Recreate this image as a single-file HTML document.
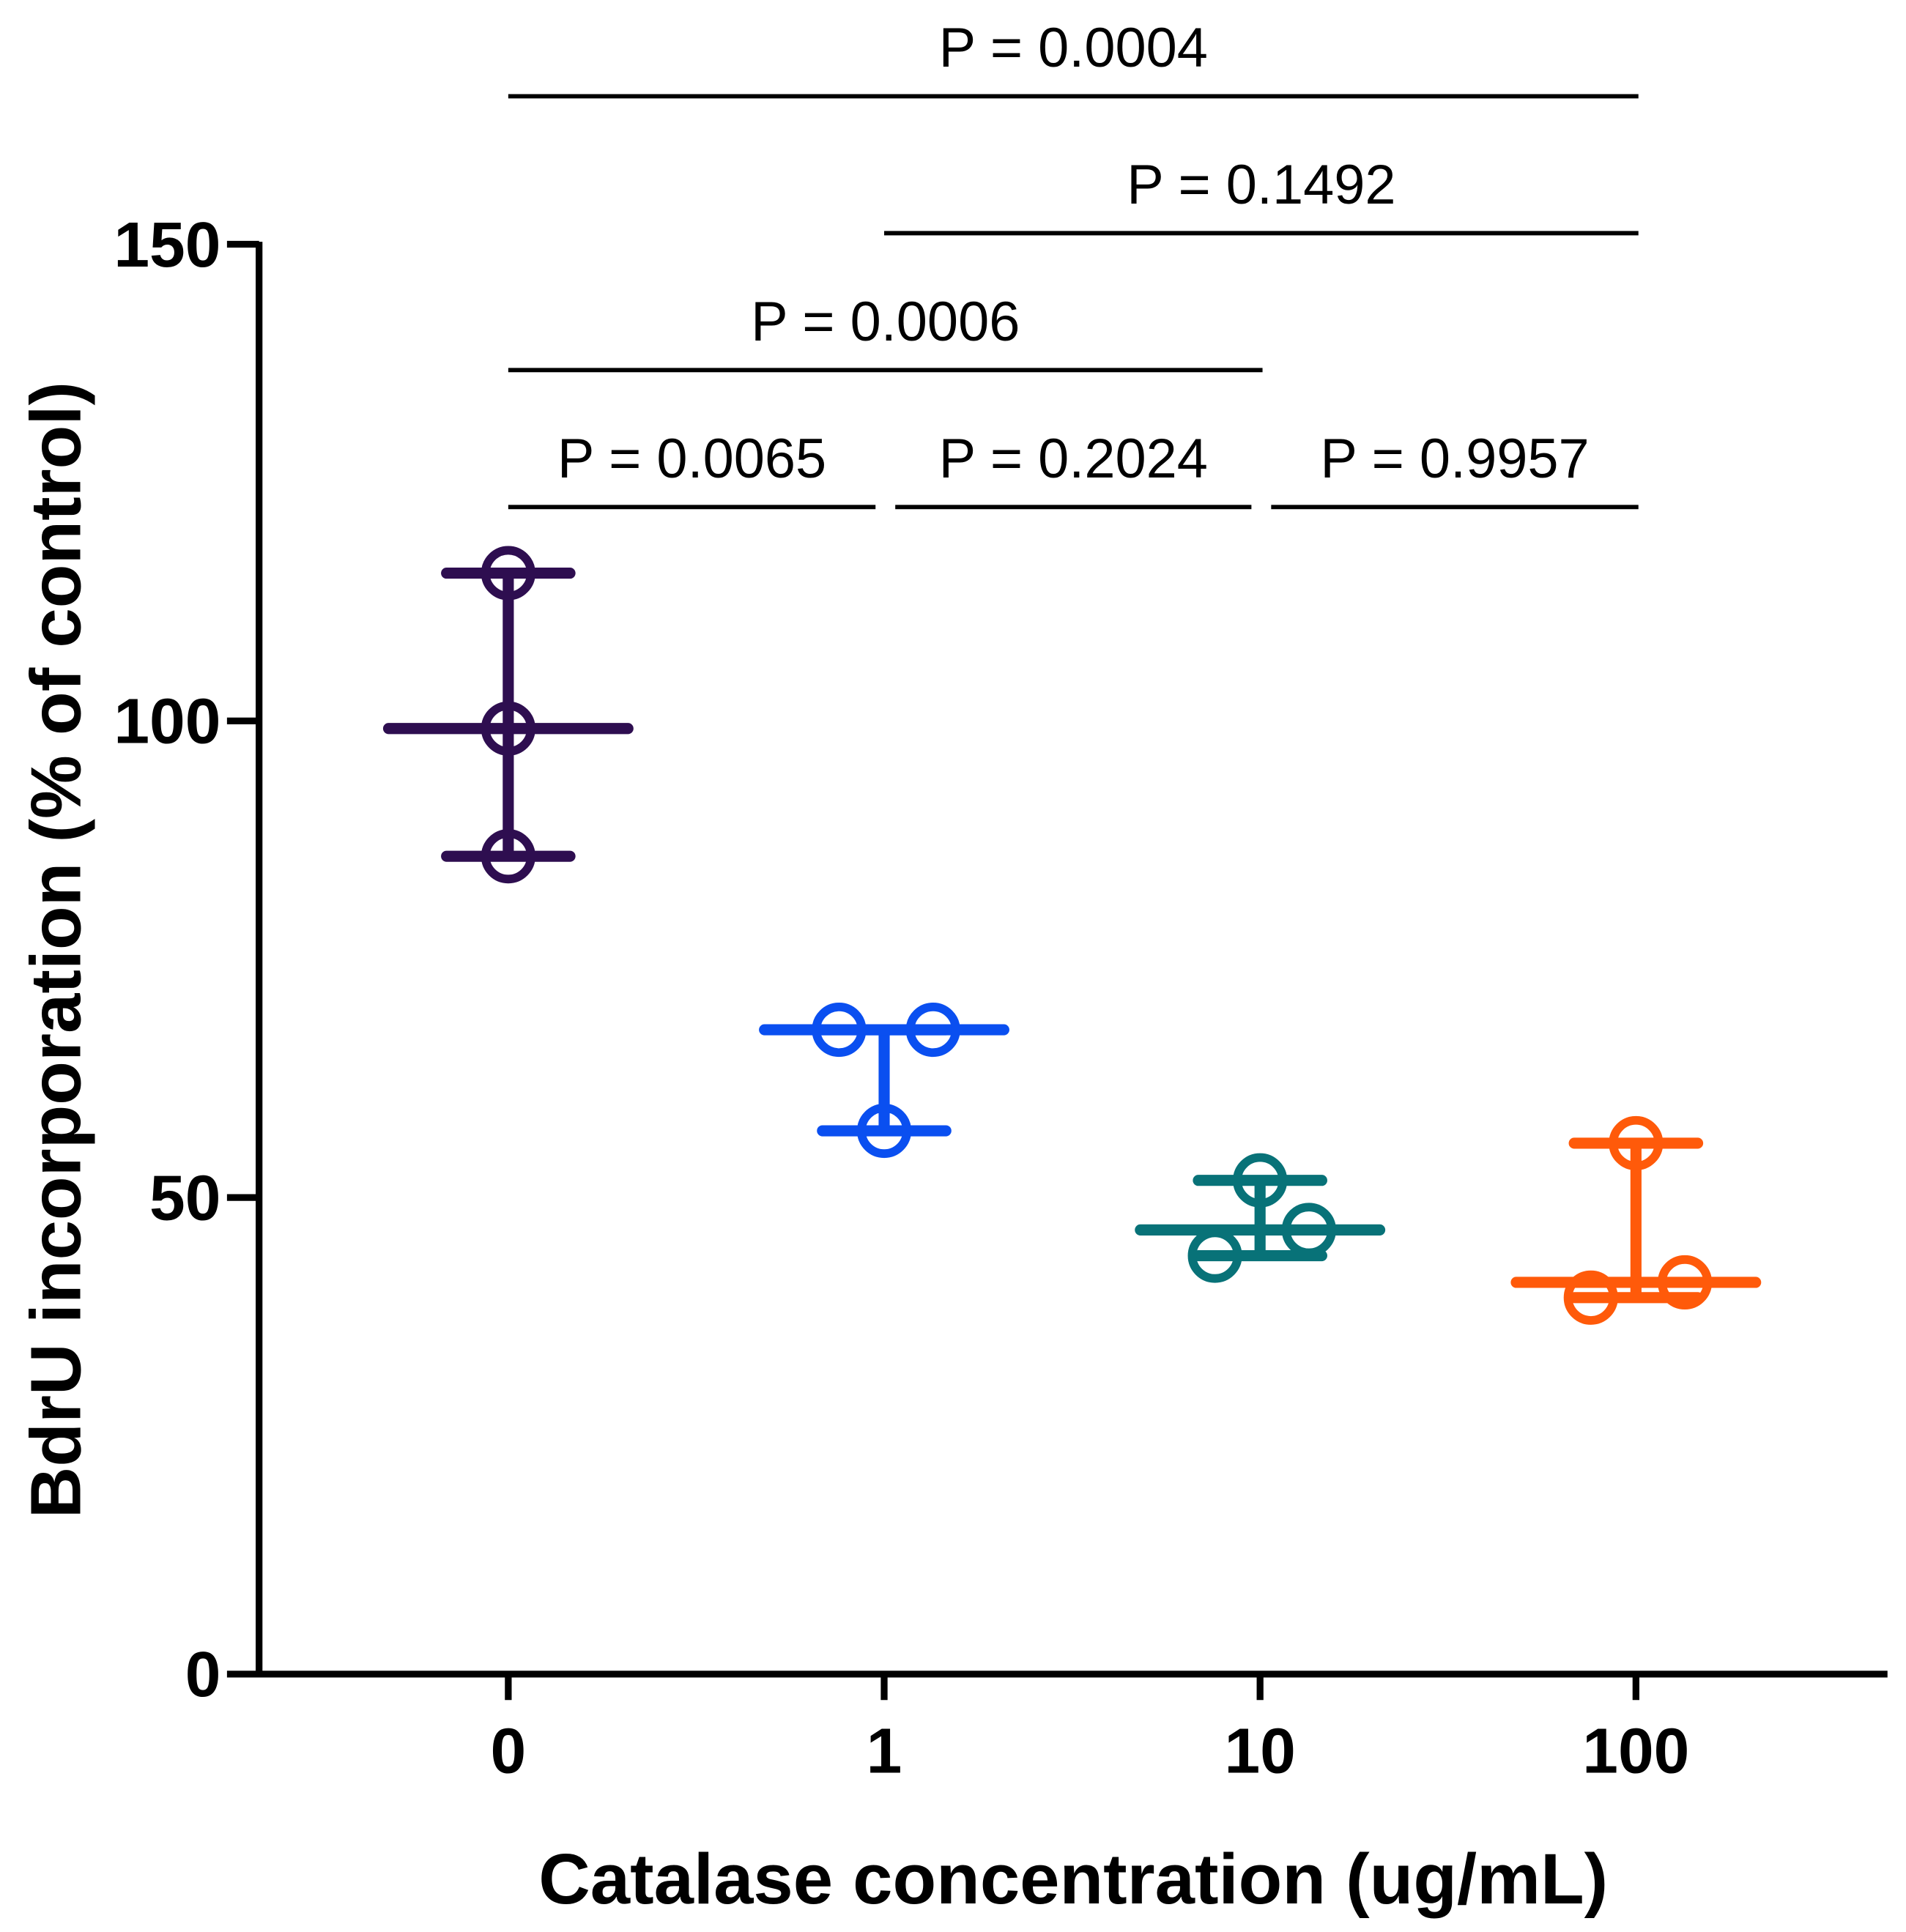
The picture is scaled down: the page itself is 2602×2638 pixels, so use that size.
<!DOCTYPE html>
<html><head><meta charset="utf-8"><style>
html,body{margin:0;padding:0;background:#fff;}
svg{display:block;}
text{font-family:"Liberation Sans",Arial,sans-serif;}
</style></head><body>
<svg id="chart" width="2602" height="2638" viewBox="0 0 1545 1566" preserveAspectRatio="none" xmlns="http://www.w3.org/2000/svg">
<g id="axes"></g>
<g id="marks"></g>
<g id="sig"></g>
</svg>
<script>
const categories = ["0","1","10","100"];
const colors = ["#2e0e50","#0a4ff0","#087278","#ff5a0a"];
const pointsG0 = [115.5, 99.2, 85.8];
const pointsG1 = [67.6, 67.6, 57.0];
const pointsG2 = [51.8, 46.6, 43.9];
const pointsG3 = [55.7, 39.5, 41.1];
const pointOffsets = [[0,0,0],[-0.12,0.13,0],[0,0.13,-0.12],[0,-0.12,0.13]];
const medians = [99.2, 67.6, 46.6, 41.1];
const yTicks = [0, 50, 100, 150];
const pLabels = ["P = 0.0004","P = 0.1492","P = 0.0006","P = 0.0065","P = 0.2024","P = 0.9957"];
const pFrom = [0,1,0,0,1,2];
const pTo = [3,3,2,1,2,3];
const pLevel = [3,2,1,0,0,0];

const NS="http://www.w3.org/2000/svg";
const X0=210, X1=1530, Y0=1357, Y150=198;
const y = v => Y0 - (v/150)*(Y0-Y150);
const x = i => 412 + i*304.7;
function mk(parent, tag, attrs, text){
  const e=document.createElementNS(NS,tag);
  for(const k in attrs) e.setAttribute(k,attrs[k]);
  if(text!==undefined) e.textContent=text;
  parent.appendChild(e); return e;
}
const axes=document.getElementById('axes');
const marks=document.getElementById('marks');
const sig=document.getElementById('sig');

let el=mk(axes,'line',{x1:X0,y1:Y150-2,x2:X0,y2:Y0+2.5,stroke:'#000','stroke-width':5.5});


el=mk(axes,'line',{x1:X0-2.5,y1:Y0,x2:X1,y2:Y0,stroke:'#000','stroke-width':5.5});


yTicks.forEach(t=>{
  let l=mk(axes,'line',{x1:184,y1:y(t),x2:X0,y2:y(t),stroke:'#000','stroke-width':5.5});
  
  
  let tx=mk(axes,'text',{x:179,y:y(t)+18,'text-anchor':'end','font-size':52,'font-weight':'bold'},String(t));
  
  
});
categories.forEach((c,i)=>{
  let l=mk(axes,'line',{x1:x(i),y1:Y0,x2:x(i),y2:1378,stroke:'#000','stroke-width':5.5});
  
  
  let tx=mk(axes,'text',{x:x(i),y:1437,'text-anchor':'middle','font-size':52,'font-weight':'bold'},c);
  
  
});
el=mk(axes,'text',{x:870,y:1543,'text-anchor':'middle','font-size':58,'font-weight':'bold'},'Catalase concentration (ug/mL)');


el=mk(axes,'text',{x:0,y:0,'text-anchor':'middle','font-size':58,'font-weight':'bold',transform:'translate(65,770) rotate(-90)'},'BdrU incorporation (% of control)');



const groups=[pointsG0,pointsG1,pointsG2,pointsG3];
groups.forEach((pts,i)=>{
  const col=colors[i], cx=x(i);
  const g=mk(marks,'g',{});
  
  
  const mx=Math.max(...pts), mn=Math.min(...pts);
  let l=mk(g,'line',{x1:cx,y1:y(mx),x2:cx,y2:y(mn),stroke:col,'stroke-width':9});
  
  
  [mx,mn].forEach(v=>{
    let c=mk(g,'line',{x1:cx-50,y1:y(v),x2:cx+50,y2:y(v),stroke:col,'stroke-width':9,'stroke-linecap':'round'});
    
    
  });
  l=mk(g,'line',{x1:cx-97,y1:y(medians[i]),x2:cx+97,y2:y(medians[i]),stroke:col,'stroke-width':9,'stroke-linecap':'round'});
  
  
  pts.forEach((v,j)=>{
    let p=mk(g,'circle',{cx:cx+pointOffsets[i][j]*304.7,cy:y(v),r:18.5,fill:'none',stroke:col,'stroke-width':7});
    
    
  });
});

const levelY=[411,300,189,78];
pLabels.forEach((lab,k)=>{
  const ly=levelY[pLevel[k]];
  let x1=x(pFrom[k]), x2=x(pTo[k])+2;
  if(pLevel[k]===0){ if(pFrom[k]>0) x1+=9; if(pTo[k]<3) x2-=9; }
  let l=mk(sig,'line',{x1:x1,y1:ly,x2:x2,y2:ly,stroke:'#000','stroke-width':3.5});
  
  
  let t=mk(sig,'text',{x:(x1+x2)/2,y:ly-24,'text-anchor':'middle','font-size':45},lab);
  
  
});
</script>
</body></html>
